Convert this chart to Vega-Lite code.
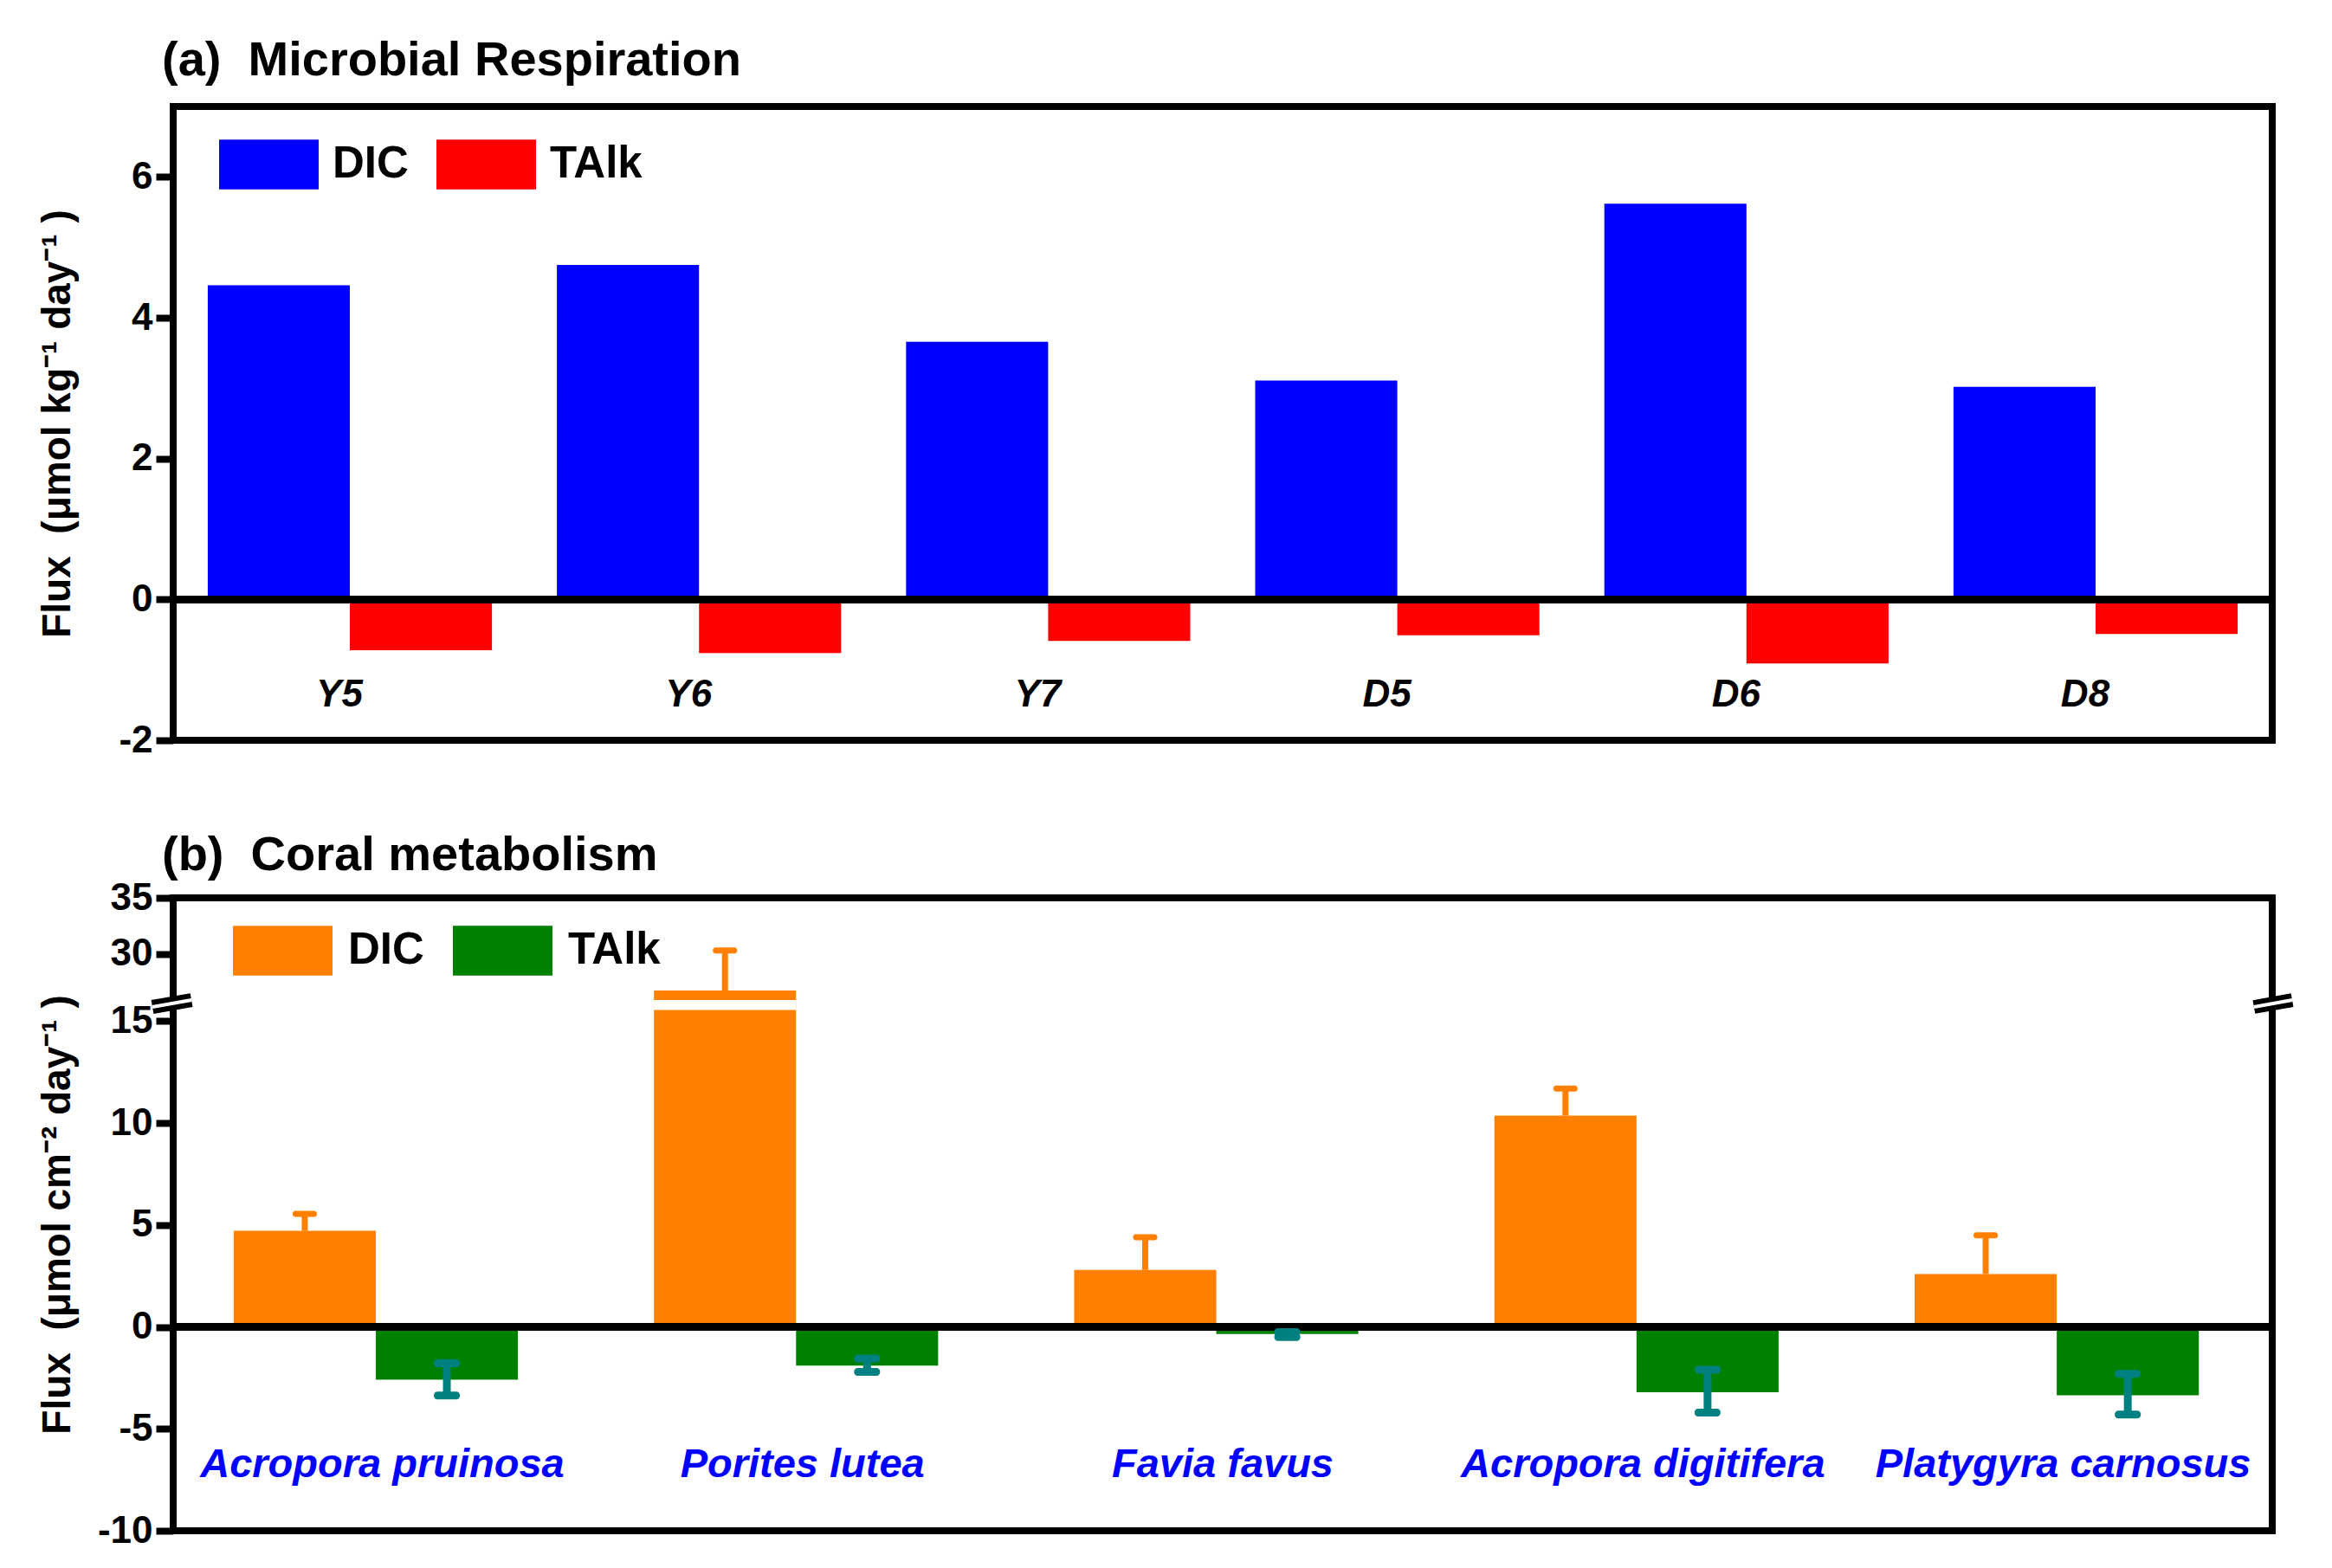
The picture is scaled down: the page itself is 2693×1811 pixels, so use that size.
{
  "$schema": "https://vega.github.io/schema/vega-lite/v6.json",
  "background": "white",
  "padding": {"left": 39, "top": 38, "right": 0, "bottom": 0},
  "spacing": 75,
  "config": {
    "view": {"stroke": "black", "strokeWidth": 8},
    "scale": {"offsetBandPaddingInner": 0, "offsetBandPaddingOuter": 0},
    "axisY": {
      "domain": false, "grid": false, "ticks": true, "tickSize": 20, "tickWidth": 8, "tickColor": "black",
      "labelFont": "Liberation Sans", "labelFontSize": 44, "labelFontWeight": "bold", "labelColor": "black",
      "labelPadding": 4, "labelFlush": false, "labelOverlap": false, "labelExpr": "datum.value + ''",
      "titleFont": "Liberation Sans", "titleFontSize": 46, "titleFontWeight": "bold", "titleColor": "black",
      "titlePadding": 0, "minExtent": 110, "maxExtent": 110
    },
    "title": {"font": "Liberation Sans", "fontSize": 56, "fontWeight": "bold", "color": "black", "anchor": "start", "frame": "group", "baseline": "alphabetic", "dx": -13},
    "legend": {
      "title": null, "orient": "none", "direction": "horizontal", "symbolType": "M-1,-0.5H1V0.5H-1Z", "symbolSize": 13225,
      "symbolStrokeWidth": 0, "symbolOpacity": 1, "labelFont": "Liberation Sans", "labelFontSize": 51, "labelFontWeight": "bold",
      "labelColor": "black", "labelOffset": 16, "columnPadding": 32, "padding": 0, "labelLimit": 400
    }
  },
  "resolve": {"scale": {"color": "independent"}, "legend": {"color": "independent"}},
  "vconcat": [
    {
      "width": 2424,
      "height": 732,
      "title": {"text": "(a)\u00a0\u00a0Microbial Respiration", "offset": 24},
      "data": {"values": [
        {"site": "Y5", "series": "DIC", "value": 4.46},
        {"site": "Y5", "series": "TAlk", "value": -0.72},
        {"site": "Y6", "series": "DIC", "value": 4.75},
        {"site": "Y6", "series": "TAlk", "value": -0.76},
        {"site": "Y7", "series": "DIC", "value": 3.66},
        {"site": "Y7", "series": "TAlk", "value": -0.59},
        {"site": "D5", "series": "DIC", "value": 3.11},
        {"site": "D5", "series": "TAlk", "value": -0.51},
        {"site": "D6", "series": "DIC", "value": 5.62},
        {"site": "D6", "series": "TAlk", "value": -0.91},
        {"site": "D8", "series": "DIC", "value": 3.02},
        {"site": "D8", "series": "TAlk", "value": -0.49}
      ]},
      "layer": [
        {
          "mark": {"type": "bar"},
          "encoding": {
            "x": {"field": "site", "type": "nominal", "sort": ["Y5", "Y6", "Y7", "D5", "D6", "D8"], "axis": null, "scale": {"paddingInner": 0.186, "paddingOuter": 0.099}},
            "xOffset": {"field": "series", "type": "nominal", "sort": ["DIC", "TAlk"], "scale": {"paddingInner": 0, "paddingOuter": 0}},
            "y": {"field": "value", "type": "quantitative", "scale": {"domain": [-2, 7], "nice": false, "zero": false},
                  "axis": {"values": [-2, 0, 2, 4, 6], "title": "Flux\u00a0\u00a0(\u03bcmol kg\u207b\u00b9 day\u207b\u00b9\u00a0)"}},
            "color": {"field": "series", "type": "nominal", "scale": {"domain": ["DIC", "TAlk"], "range": ["#0000FF", "#FF0000"]},
                      "legend": {"legendX": 53, "legendY": 9}}
          }
        },
        {
          "mark": {"type": "rule", "color": "black", "strokeWidth": 8},
          "encoding": {"y": {"datum": 0}}
        },
        {
          "transform": [{"filter": "datum.series === 'DIC'"}],
          "mark": {"type": "text", "font": "Liberation Sans", "fontSize": 44, "fontWeight": "bold", "fontStyle": "italic", "color": "black", "baseline": "middle", "align": "center", "dx": -12},
          "encoding": {
            "x": {"field": "site", "type": "nominal", "sort": ["Y5", "Y6", "Y7", "D5", "D6", "D8"], "axis": null},
            "y": {"datum": -1.36},
            "text": {"field": "site"}
          }
        }
      ]
    },
    {
      "width": 2424,
      "height": 731,
      "title": {"text": "(b)\u00a0\u00a0Coral metabolism", "offset": -2},
      "resolve": {"scale": {"x": "independent"}},
      "layer": [
        {
          "data": {"values": [
            {"site": "Acropora pruinosa", "series": "DIC", "value": 4.72, "lo": 4.72, "hi": 5.55},
            {"site": "Acropora pruinosa", "series": "TAlk", "value": -2.59, "lo": -3.36, "hi": -1.78},
            {"site": "Porites lutea", "series": "DIC", "value": 26.7, "lo": 26.7, "hi": 30.3},
            {"site": "Porites lutea", "series": "TAlk", "value": -1.9, "lo": -2.2, "hi": -1.55},
            {"site": "Favia favus", "series": "DIC", "value": 2.8, "lo": 2.8, "hi": 4.4},
            {"site": "Favia favus", "series": "TAlk", "value": -0.35, "lo": -0.5, "hi": -0.25},
            {"site": "Acropora digitifera", "series": "DIC", "value": 10.37, "lo": 10.37, "hi": 11.7},
            {"site": "Acropora digitifera", "series": "TAlk", "value": -3.2, "lo": -4.2, "hi": -2.1},
            {"site": "Platygyra carnosus", "series": "DIC", "value": 2.6, "lo": 2.6, "hi": 4.5},
            {"site": "Platygyra carnosus", "series": "TAlk", "value": -3.35, "lo": -4.3, "hi": -2.3}
          ]},
          "layer": [
            {
              "mark": {"type": "bar"},
              "encoding": {
                "x": {"field": "site", "type": "nominal", "sort": ["Acropora pruinosa", "Porites lutea", "Favia favus", "Acropora digitifera", "Platygyra carnosus"], "axis": null,
                      "scale": {"paddingInner": 0.293, "paddingOuter": 0.144, "align": 0.5}},
                "xOffset": {"field": "series", "type": "nominal", "sort": ["DIC", "TAlk"], "scale": {"paddingInner": 0, "paddingOuter": 0}},
                "y": {"field": "value", "type": "quantitative",
                      "scale": {"domain": [-10, 15.7, 25.7, 35], "range": [731, 126, 120, 0], "nice": false, "zero": false},
                      "axis": {"values": [-10, -5, 0, 5, 10, 15, 30, 35], "title": "Flux\u00a0\u00a0(\u03bcmol cm\u207b\u00b2 day\u207b\u00b9\u00a0)"}},
                "color": {"field": "series", "type": "nominal", "scale": {"domain": ["DIC", "TAlk"], "range": ["#FF8000", "#008000"]},
                          "legend": {"legendX": 69, "legendY": 3, "labelOffset": 18, "columnPadding": 33}}
              }
            },
            {
              "transform": [{"filter": "datum.site === 'Porites lutea' && datum.series === 'DIC'"}],
              "mark": {"type": "bar", "color": "white"},
              "encoding": {
                "x": {"field": "site", "type": "nominal", "sort": ["Acropora pruinosa", "Porites lutea", "Favia favus", "Acropora digitifera", "Platygyra carnosus"], "axis": null},
                "xOffset": {"field": "series", "type": "nominal", "sort": ["DIC", "TAlk"], "scale": {"domain": ["DIC", "TAlk"]}},
                "y": {"datum": 15.55},
                "y2": {"datum": 25.85}
              }
            },
            {
              "mark": {"type": "rule", "color": "black", "strokeWidth": 8},
              "encoding": {"y": {"datum": 0}}
            },
            {
              "transform": [{"filter": "datum.series === 'DIC'"}],
              "mark": {"type": "rule", "color": "#FF8000", "strokeWidth": 7},
              "encoding": {
                "x": {"field": "site", "type": "nominal", "sort": ["Acropora pruinosa", "Porites lutea", "Favia favus", "Acropora digitifera", "Platygyra carnosus"], "axis": null},
                "xOffset": {"field": "series", "type": "nominal", "sort": ["DIC", "TAlk"]},
                "y": {"field": "lo", "type": "quantitative"},
                "y2": {"field": "hi"}
              }
            },
            {
              "transform": [{"filter": "datum.series === 'DIC'"}],
              "mark": {"type": "tick", "color": "#FF8000", "size": 28, "thickness": 7, "cornerRadius": 3, "opacity": 1},
              "encoding": {
                "x": {"field": "site", "type": "nominal", "sort": ["Acropora pruinosa", "Porites lutea", "Favia favus", "Acropora digitifera", "Platygyra carnosus"], "axis": null},
                "xOffset": {"field": "series", "type": "nominal", "sort": ["DIC", "TAlk"]},
                "y": {"field": "hi", "type": "quantitative"}
              }
            },
            {
              "transform": [{"filter": "datum.series === 'TAlk'"}],
              "mark": {"type": "rule", "color": "#008080", "strokeWidth": 9},
              "encoding": {
                "x": {"field": "site", "type": "nominal", "sort": ["Acropora pruinosa", "Porites lutea", "Favia favus", "Acropora digitifera", "Platygyra carnosus"], "axis": null},
                "xOffset": {"field": "series", "type": "nominal", "sort": ["DIC", "TAlk"]},
                "y": {"field": "lo", "type": "quantitative"},
                "y2": {"field": "hi"}
              }
            },
            {
              "transform": [{"filter": "datum.series === 'TAlk'"}],
              "mark": {"type": "tick", "color": "#008080", "size": 30, "thickness": 9, "cornerRadius": 4, "opacity": 1},
              "encoding": {
                "x": {"field": "site", "type": "nominal", "sort": ["Acropora pruinosa", "Porites lutea", "Favia favus", "Acropora digitifera", "Platygyra carnosus"], "axis": null},
                "xOffset": {"field": "series", "type": "nominal", "sort": ["DIC", "TAlk"]},
                "y": {"field": "hi", "type": "quantitative"}
              }
            },
            {
              "transform": [{"filter": "datum.series === 'TAlk'"}],
              "mark": {"type": "tick", "color": "#008080", "size": 30, "thickness": 9, "cornerRadius": 4, "opacity": 1},
              "encoding": {
                "x": {"field": "site", "type": "nominal", "sort": ["Acropora pruinosa", "Porites lutea", "Favia favus", "Acropora digitifera", "Platygyra carnosus"], "axis": null},
                "xOffset": {"field": "series", "type": "nominal", "sort": ["DIC", "TAlk"]},
                "y": {"field": "lo", "type": "quantitative"}
              }
            },
            {
              "transform": [{"filter": "datum.series === 'DIC'"}],
              "mark": {"type": "text", "font": "Liberation Sans", "fontSize": 47, "fontWeight": "bold", "fontStyle": "italic", "color": "#0000FF", "baseline": "middle", "align": "center"},
              "encoding": {
                "x": {"field": "site", "type": "nominal", "sort": ["Acropora pruinosa", "Porites lutea", "Favia favus", "Acropora digitifera", "Platygyra carnosus"], "axis": null},
                "y": {"datum": -6.76},
                "text": {"field": "site"}
              }
            }
          ]
        },
        {
          "data": {"values": [{}]},
          "layer": [
            {
              "mark": {"type": "rule", "color": "black", "strokeWidth": 16},
              "encoding": {
                "x": {"datum": -0.0099, "type": "quantitative", "scale": {"domain": [0, 1], "nice": false, "zero": false}, "axis": null},
                "x2": {"datum": 0.0087},
                "y": {"datum": 15.7},
                "y2": {"datum": 25.85}
              }
            },
            {
              "mark": {"type": "rule", "color": "white", "strokeWidth": 4},
              "encoding": {
                "x": {"datum": -0.0099, "type": "quantitative", "axis": null},
                "x2": {"datum": 0.0087},
                "y": {"datum": 15.7},
                "y2": {"datum": 25.85}
              }
            },
            {
              "mark": {"type": "rule", "color": "black", "strokeWidth": 16},
              "encoding": {
                "x": {"datum": 0.9913, "type": "quantitative", "axis": null},
                "x2": {"datum": 1.0095},
                "y": {"datum": 15.7},
                "y2": {"datum": 25.85}
              }
            },
            {
              "mark": {"type": "rule", "color": "white", "strokeWidth": 4},
              "encoding": {
                "x": {"datum": 0.9913, "type": "quantitative", "axis": null},
                "x2": {"datum": 1.0095},
                "y": {"datum": 15.7},
                "y2": {"datum": 25.85}
              }
            }
          ]
        }
      ]
    }
  ]
}
